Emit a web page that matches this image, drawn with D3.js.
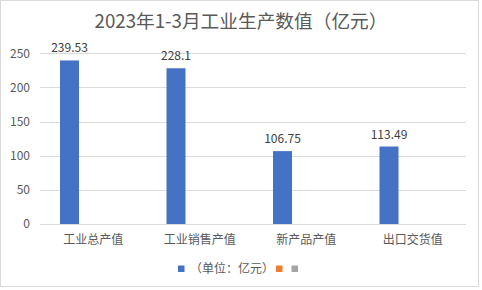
<!DOCTYPE html>
<html><head><meta charset="utf-8">
<script src="https://cdn.jsdelivr.net/npm/d3@7"></script>
<style>html,body{margin:0;padding:0;background:#fff;}svg{display:block;}</style>
</head><body>
<script>
const categories = ["工业总产值", "工业销售产值", "新产品产值", "出口交货值"];
const seriesNames = ["（单位：亿元）", "", ""];
const seriesColors = ["#4472C4", "#ED7D31", "#A5A5A5"];
const values1 = [239.53, 228.1, 106.75, 113.49];
const values2 = [null, null, null, null];
const values3 = [null, null, null, null];
const yTicks = [0, 50, 100, 150, 200, 250];
const title = "2023年1-3月工业生产数值（亿元）";

const W = 482, H = 290;
const font = "'Noto Sans CJK SC', 'Noto Sans', sans-serif";
const txt = "#595959";
const svg = d3.select("body").append("svg").attr("width", W).attr("height", H);
svg.append("rect").attr("x", 0.5).attr("y", 0.5).attr("width", 478).attr("height", 286)
  .attr("fill", "#fff").attr("stroke", "#d9d9d9");

const m = {left: 40, right: 466, top: 53.3, bottom: 224};
const x0 = d3.scaleBand().domain(categories).range([m.left, m.right]).padding(0);
const series = [values1, values2, values3];
const x1 = d3.scaleBand().domain([0, 1, 2]).range([-33.25, 33.25]).paddingInner(0.2).paddingOuter(0);
const y = d3.scaleLinear().domain([0, 250]).range([m.bottom, m.top]);

svg.append("text").attr("x", 241).attr("y", 28).attr("text-anchor", "middle")
  .attr("font-family", font).attr("font-size", 18.7).attr("fill", txt).text(title);

const grid = svg.append("g");
yTicks.forEach(t => {
  grid.append("line").attr("x1", m.left).attr("x2", m.right)
    .attr("y1", Math.round(y(t)) + 0.5).attr("y2", Math.round(y(t)) + 0.5)
    .attr("stroke", "#d9d9d9").attr("stroke-width", 1);
  grid.append("text").attr("x", 30).attr("y", y(t) + 4.3).attr("text-anchor", "end")
    .attr("font-family", font).attr("font-size", 12).attr("fill", txt).text(t);
});

series.forEach((vals, si) => {
  vals.forEach((v, ci) => {
    if (v == null) return;
    const cx = x0(categories[ci]) + x0.bandwidth() / 2;
    const bx = cx + x1(si);
    svg.append("rect").attr("x", bx).attr("y", y(v)).attr("width", x1.bandwidth())
      .attr("height", y(0) - y(v)).attr("fill", seriesColors[si]);
    svg.append("text").attr("x", bx + x1.bandwidth() / 2).attr("y", y(v) - 8)
      .attr("text-anchor", "middle").attr("font-family", font).attr("font-size", 12)
      .attr("fill", "#404040").text(v);
  });
});

categories.forEach(c => {
  svg.append("text").attr("x", x0(c) + x0.bandwidth() / 2).attr("y", 244)
    .attr("text-anchor", "middle").attr("font-family", font).attr("font-size", 12)
    .attr("fill", txt).text(c);
});

// legend
const lg = svg.append("g");
let lx = 178;
seriesNames.forEach((n, i) => {
  lg.append("rect").attr("x", lx).attr("y", 265.5).attr("width", 6.5).attr("height", 6.5).attr("fill", seriesColors[i]);
  lx += 12;
  if (n) {
    const t = lg.append("text").attr("x", lx).attr("y", 273).attr("font-family", font)
      .attr("font-size", 12).attr("fill", txt).text(n);
    lx += t.node().getComputedTextLength() + 2;
  } else {
    lx += 3.5;
  }
});
</script>
</body></html>
